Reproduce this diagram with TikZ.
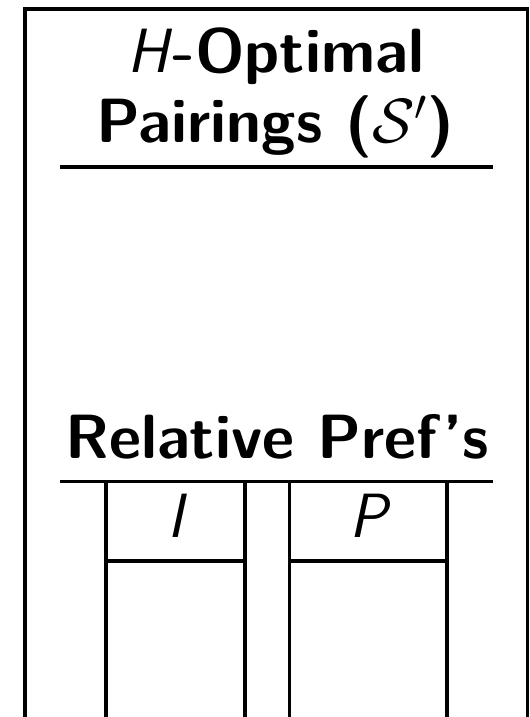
\RequirePackage{fix-cm}
\documentclass[tikz,border=0pt]{standalone}
\usepackage{fontspec}
\begin{document}
\begin{tikzpicture}[x=0.4pt,y=-0.4pt,
  rule/.style={line width=1.5pt,line cap=butt},
  title/.style={anchor=base,inner sep=0pt,font=\fontsize{25}{28}\selectfont\sffamily\bfseries},
  colhead/.style={anchor=base,inner sep=0pt,font=\fontsize{25}{28}\selectfont\sffamily\mdseries\slshape}]
\useasboundingbox (0,0) rectangle (529,717);
% outer frame (open at the bottom)
\coordinate (fbl) at (25.3,717);
\coordinate (ftl) at (25.3,8.8);
\coordinate (ftr) at (527.5,8.8);
\coordinate (fbr) at (527.5,717);
\draw[rule,line join=miter] (fbl) -- (ftl) -- (ftr) -- (fbr);
% title (two lines in one node; base = baseline of last line)
\node[title,align=center] (t1) at (275.5,143) {{\mdseries\slshape H\/}-Optimal\\Pairings ($\mathcal{S}'$)};
\coordinate (u1l) at (60,167);
\coordinate (u1r) at (493,167);
\draw[rule] (u1l) -- (u1r);
% relative prefs
\node[title] (rp) at (277,458) {Relative Pref's};
\coordinate (u2l) at (60,481.5);
\coordinate (u2r) at (493,481.5);
\draw[rule] (u2l) -- (u2r);
% columns
\coordinate (c1a) at (106,481.5);   \coordinate (c1b) at (106,717);
\coordinate (c2a) at (245,481.5);   \coordinate (c2b) at (245,717);
\coordinate (c3a) at (289.5,481.5); \coordinate (c3b) at (289.5,717);
\coordinate (c4a) at (447,481.5);   \coordinate (c4b) at (447,717);
\draw[rule] (c1a) -- (c1b);
\draw[rule] (c2a) -- (c2b);
\draw[rule] (c3a) -- (c3b);
\draw[rule] (c4a) -- (c4b);
\coordinate (h1l) at (106,561); \coordinate (h1r) at (245,561);
\coordinate (h2l) at (289.5,561); \coordinate (h2r) at (447,561);
\draw[rule] (h1l) -- (h1r);
\draw[rule] (h2l) -- (h2r);
\node[colhead] (hi) at (175.5,537) {I};
\node[colhead] (hp) at (368,537) {P};
\end{tikzpicture}
\end{document}
